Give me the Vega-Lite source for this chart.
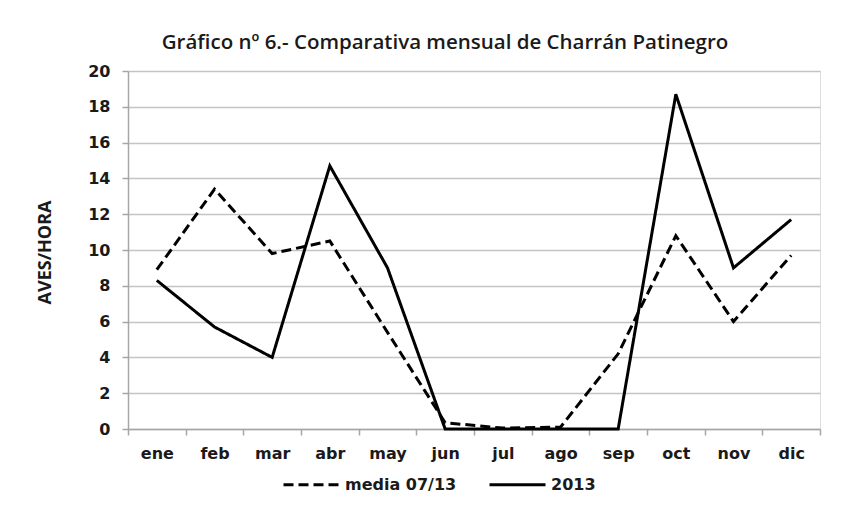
{
  "$schema": "https://vega.github.io/schema/vega-lite/v6.json",
  "width": 692,
  "height": 358,
  "autosize": {"type": "none"},
  "padding": {"left": 128, "top": 71, "right": 26, "bottom": 80},
  "background": "white",
  "title": {
    "text": "Gráfico nº 6.- Comparativa mensual de Charrán Patinegro",
    "font": "Open Sans",
    "fontSize": 20.5,
    "fontWeight": 600,
    "color": "#1a1a1a",
    "anchor": "middle",
    "frame": "group",
    "dx": -29,
    "baseline": "alphabetic",
    "offset": -6
  },
  "data": {
    "values": [
      {"mes": "ene", "serie": "media 07/13", "valor": 8.9},
      {"mes": "feb", "serie": "media 07/13", "valor": 13.4},
      {"mes": "mar", "serie": "media 07/13", "valor": 9.8},
      {"mes": "abr", "serie": "media 07/13", "valor": 10.5},
      {"mes": "may", "serie": "media 07/13", "valor": 5.4},
      {"mes": "jun", "serie": "media 07/13", "valor": 0.35},
      {"mes": "jul", "serie": "media 07/13", "valor": 0.05},
      {"mes": "ago", "serie": "media 07/13", "valor": 0.1},
      {"mes": "sep", "serie": "media 07/13", "valor": 4.2},
      {"mes": "oct", "serie": "media 07/13", "valor": 10.8},
      {"mes": "nov", "serie": "media 07/13", "valor": 6.0},
      {"mes": "dic", "serie": "media 07/13", "valor": 9.7},
      {"mes": "ene", "serie": "2013", "valor": 8.3},
      {"mes": "feb", "serie": "2013", "valor": 5.7},
      {"mes": "mar", "serie": "2013", "valor": 4.0},
      {"mes": "abr", "serie": "2013", "valor": 14.7},
      {"mes": "may", "serie": "2013", "valor": 9.0},
      {"mes": "jun", "serie": "2013", "valor": 0},
      {"mes": "jul", "serie": "2013", "valor": 0},
      {"mes": "ago", "serie": "2013", "valor": 0},
      {"mes": "sep", "serie": "2013", "valor": 0},
      {"mes": "oct", "serie": "2013", "valor": 18.7},
      {"mes": "nov", "serie": "2013", "valor": 9.0},
      {"mes": "dic", "serie": "2013", "valor": 11.7}
    ]
  },
  "mark": {"type": "line", "color": "black", "strokeWidth": 3, "strokeJoin": "miter"},
  "encoding": {
    "x": {
      "field": "mes",
      "type": "nominal",
      "sort": ["ene","feb","mar","abr","may","jun","jul","ago","sep","oct","nov","dic"],
      "scale": {"type": "band", "paddingInner": 0, "paddingOuter": 0},
      "axis": {
        "title": null,
        "labelAngle": 0,
        "tickBand": "extent",
        "domainColor": "#a6a6a6",
        "domainWidth": 1.5,
        "tickColor": "#a6a6a6",
        "tickWidth": 1.5,
        "tickSize": 6,
        "labelPadding": 10,
        "labelFont": "DejaVu Sans",
        "labelFontSize": 16,
        "labelFontWeight": "bold",
        "labelColor": "#1a1a1a",
        "grid": false
      }
    },
    "y": {
      "field": "valor",
      "type": "quantitative",
      "scale": {"domain": [0, 20], "nice": false},
      "axis": {
        "title": "AVES/HORA",
        "values": [0,2,4,6,8,10,12,14,16,18,20],
        "grid": true,
        "gridColor": "#c4c4c4",
        "gridWidth": 1.5,
        "domainColor": "#a6a6a6",
        "domainWidth": 1.5,
        "tickColor": "#a6a6a6",
        "tickWidth": 1.5,
        "tickSize": 6,
        "labelPadding": 12,
        "labelFont": "DejaVu Sans",
        "labelFontSize": 16,
        "labelFontWeight": "bold",
        "labelColor": "#1a1a1a",
        "titleFont": "Open Sans",
        "titleFontSize": 18,
        "titleFontWeight": "bold",
        "titleColor": "#1a1a1a",
        "titleX": -83,
        "titleY": 181,
        "titleAlign": "center",
        "titleBaseline": "middle",
        "titleAngle": -90
      }
    },
    "strokeDash": {
      "field": "serie",
      "type": "nominal",
      "scale": {"domain": ["media 07/13", "2013"], "range": [[10, 5], [1, 0]]},
      "legend": {
        "title": null,
        "orient": "none",
        "direction": "horizontal",
        "legendX": 154,
        "legendY": 384,
        "symbolType": "stroke",
        "symbolSize": 3136,
        "symbolStrokeWidth": 3,
        "symbolStrokeColor": "black",
        "labelFont": "DejaVu Sans",
        "labelFontSize": 16,
        "labelFontWeight": "bold",
        "labelColor": "#1a1a1a",
        "labelOffset": 4,
        "columnPadding": 26
      }
    }
  }
}
